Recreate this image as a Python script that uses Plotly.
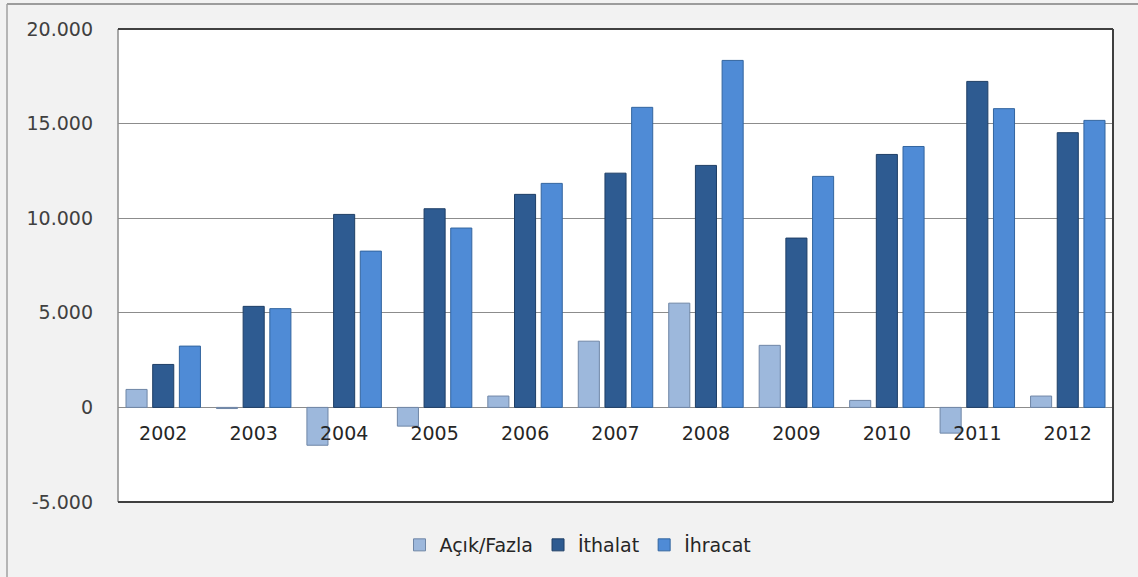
import plotly.graph_objects as go

years = ["2002", "2003", "2004", "2005", "2006", "2007", "2008", "2009", "2010", "2011", "2012"]
acik_fazla = [950, -60, -2000, -990, 600, 3500, 5510, 3280, 370, -1360, 600]
ithalat = [2270, 5340, 10200, 10500, 11260, 12380, 12790, 8950, 13370, 17230, 14520]
ihracat = [3240, 5220, 8260, 9480, 11840, 15860, 18340, 12210, 13790, 15790, 15170]
y_tick_vals = [-5000, 0, 5000, 10000, 15000, 20000]
y_tick_text = ["-5.000", "0", "5.000", "10.000", "15.000", "20.000"]

W, H = 1138, 577
L, R, T, B = 118, 1113, 29, 502

def px_x(p):
    return (p - L) / (R - L)

def px_y(p):
    return (B - p) / (B - T)

fig = go.Figure()
fig.add_trace(go.Bar(name="Açık/Fazla", x=years, y=acik_fazla,
                     marker=dict(color="#9db8dc", line=dict(color="#6f86a6", width=1))))
fig.add_trace(go.Bar(name="İthalat", x=years, y=ithalat,
                     marker=dict(color="#2e5b91", line=dict(color="#1f3f66", width=1))))
fig.add_trace(go.Bar(name="İhracat", x=years, y=ihracat,
                     marker=dict(color="#4f8bd6", line=dict(color="#33659f", width=1))))

font = "DejaVu Sans"
fig.update_layout(
    width=W, height=H,
    margin=dict(l=L, r=W - R, t=T, b=H - B),
    paper_bgcolor="#f2f2f2", plot_bgcolor="#ffffff",
    barmode="group", bargap=0.115, bargroupgap=0.21,
    showlegend=True,
    legend=dict(orientation="h", x=px_x(578), xanchor="center", y=px_y(545), yanchor="middle",
                font=dict(family=font, size=19, color="#262626"), bgcolor="rgba(0,0,0,0)",
                itemwidth=30, traceorder="normal"),
    xaxis=dict(anchor="free", position=0.2, showline=False, showgrid=False, ticks="",
               tickfont=dict(family=font, size=19, color="#262626"), ticklabelstandoff=13,
               range=[-0.5, 10.5]),
    yaxis=dict(range=[-5000, 20000], tickvals=y_tick_vals, ticktext=y_tick_text,
               showgrid=True, gridcolor="#8c8c8c", gridwidth=1,
               zeroline=True, zerolinecolor="#8c8c8c", zerolinewidth=1,
               showline=False, ticks="", ticklabelstandoff=24,
               tickfont=dict(family=font, size=19, color="#404040")),
    shapes=[
        dict(type="line", xref="paper", yref="paper", x0=0, x1=0, y0=0, y1=1,
             line=dict(color="#8c8c8c", width=1.5)),
        dict(type="line", xref="paper", yref="paper", x0=0, x1=1, y0=1, y1=1,
             line=dict(color="#404040", width=2)),
        dict(type="line", xref="paper", yref="paper", x0=1, x1=1, y0=0, y1=1,
             line=dict(color="#404040", width=2)),
        dict(type="line", xref="paper", yref="paper", x0=0, x1=1, y0=0, y1=0,
             line=dict(color="#404040", width=2)),
        dict(type="line", xref="paper", yref="paper", x0=px_x(7), x1=px_x(W), y0=px_y(4), y1=px_y(4),
             line=dict(color="#7f7f7f", width=1.5)),
        dict(type="line", xref="paper", yref="paper", x0=px_x(7), x1=px_x(7), y0=px_y(4), y1=px_y(H),
             line=dict(color="#a0a0a0", width=1.5)),
    ],
)

fig.write_html("out.html")
